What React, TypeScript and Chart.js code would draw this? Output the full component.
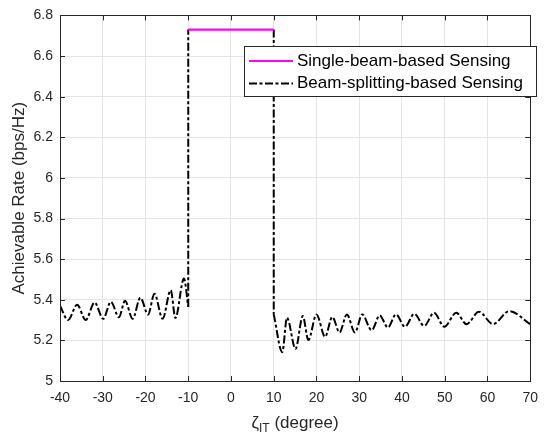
import React, { useEffect, useRef } from "react";
import { Chart, registerables } from "chart.js";

Chart.register(...registerables);

// ---- Data ----
const xTickValues = [-40, -30, -20, -10, 0, 10, 20, 30, 40, 50, 60, 70];
const yTickValues = [5, 5.2, 5.4, 5.6, 5.8, 6, 6.2, 6.4, 6.6, 6.8];

const singleBeamAngles = [-10, 10];
const singleBeamRates = [6.73, 6.73];

const splitLeftAngles = [-40, -38.1, -36.0, -34.0, -31.9, -29.9, -28.1, -26.2, -24.8, -23.0, -21.2, -19.4, -17.9, -16.0, -14.1, -13.0, -11.0, -10.0];
const splitLeftRates = [5.37, 5.3, 5.376, 5.3, 5.387, 5.306, 5.39, 5.314, 5.395, 5.306, 5.41, 5.327, 5.43, 5.306, 5.447, 5.31, 5.505, 5.365];

// vertical jumps of the beam-splitting curve (its plateau coincides with the single-beam line)
const splitJumpUpAngles = [-10, -10];
const splitJumpUpRates = [5.365, 6.73];
const splitJumpDownAngles = [10, 10];
const splitJumpDownRates = [6.73, 5.328];

const splitRightAngles = [10, 12.0, 13.1, 15.1, 16.8, 18.1, 20.0, 22.0, 23.7, 25.4, 27.1, 29.0, 30.7, 32.9, 34.8, 36.7, 38.6, 40.7, 42.9, 45.2, 47.5, 49.9, 52.7, 55.1, 58.0, 61.3, 65.1, 70];
const splitRightRates = [5.328, 5.142, 5.312, 5.158, 5.32, 5.202, 5.328, 5.218, 5.315, 5.239, 5.328, 5.239, 5.328, 5.25, 5.323, 5.263, 5.328, 5.267, 5.331, 5.271, 5.336, 5.267, 5.336, 5.28, 5.341, 5.28, 5.344, 5.28];

const legendLabels = ["Single-beam-based Sensing", "Beam-splitting-based Sensing"];
const xTitleMain = "\u03B6";
const xTitleSub = "IT";
const xTitleRest = " (degree)";
const yTitle = "Achievable Rate (bps/Hz)";

const FONT = "'Liberation Sans', Arial, Helvetica, sans-serif";
const AXIS_COLOR = "#262626";
const GRID_COLOR = "#e4e4e4";
const DASH = [8, 2.5, 3, 2.5];

const toPts = (xs: number[], ys: number[]) => xs.map((x, i) => ({ x, y: ys[i] }));

const decorPlugin = {
  id: "decor",
  afterDraw(chart: any) {
    const { ctx, chartArea, scales } = chart;
    const { left, right, top, bottom } = chartArea;
    ctx.save();
    // inner ticks
    ctx.strokeStyle = AXIS_COLOR;
    ctx.lineWidth = 1;
    const tl = 5;
    ctx.beginPath();
    xTickValues.forEach((v) => {
      const px = Math.round(scales.x.getPixelForValue(v)) + 0.5;
      ctx.moveTo(px, bottom);
      ctx.lineTo(px, bottom - tl);
      ctx.moveTo(px, top);
      ctx.lineTo(px, top + tl);
    });
    yTickValues.forEach((v) => {
      const py = Math.round(scales.y.getPixelForValue(v)) + 0.5;
      ctx.moveTo(left, py);
      ctx.lineTo(left + tl, py);
      ctx.moveTo(right, py);
      ctx.lineTo(right - tl, py);
    });
    ctx.stroke();
    // box
    ctx.strokeRect(Math.round(left) + 0.5, Math.round(top) + 0.5, Math.round(right - left), Math.round(bottom - top));

    // legend
    const bx = 244.5, by = 46.5, bw = 292, bh = 50;
    ctx.fillStyle = "#ffffff";
    ctx.fillRect(bx, by, bw, bh);
    ctx.strokeStyle = AXIS_COLOR;
    ctx.lineWidth = 1;
    ctx.strokeRect(bx, by, bw, bh);
    const rows = [61, 83.5];
    ctx.lineWidth = 2;
    ctx.strokeStyle = "#ff00ff";
    ctx.setLineDash([]);
    ctx.beginPath();
    ctx.moveTo(249, rows[0]);
    ctx.lineTo(293, rows[0]);
    ctx.stroke();
    ctx.strokeStyle = "#000000";
    ctx.setLineDash(DASH);
    ctx.beginPath();
    ctx.moveTo(249, rows[1]);
    ctx.lineTo(293, rows[1]);
    ctx.stroke();
    ctx.setLineDash([]);
    ctx.fillStyle = "#000000";
    ctx.font = `17px ${FONT}`;
    ctx.textBaseline = "middle";
    ctx.textAlign = "left";
    ctx.fillText(legendLabels[0], 297, rows[0]);
    ctx.fillText(legendLabels[1], 297, rows[1]);

    // x title with subscript
    ctx.fillStyle = AXIS_COLOR;
    const mainFont = `17px ${FONT}`;
    const subFont = `12px ${FONT}`;
    ctx.font = mainFont;
    const w1 = ctx.measureText(xTitleMain).width;
    const w3 = ctx.measureText(xTitleRest).width;
    ctx.font = subFont;
    const w2 = ctx.measureText(xTitleSub).width;
    const total = w1 + w2 + w3;
    let sx = (left + right) / 2 - total / 2;
    const ty = 423;
    ctx.textBaseline = "middle";
    ctx.font = mainFont;
    ctx.fillText(xTitleMain, sx, ty);
    sx += w1;
    ctx.font = subFont;
    ctx.fillText(xTitleSub, sx, ty + 6);
    sx += w2;
    ctx.font = mainFont;
    ctx.fillText(xTitleRest, sx, ty);
    ctx.restore();
  },
};

export default function App() {
  const ref = useRef<HTMLCanvasElement>(null);
  useEffect(() => {
    document.body.style.margin = "0";
    const lineBase = { pointRadius: 0, fill: false, spanGaps: true };
    const blackBase = { ...lineBase, label: legendLabels[1], borderColor: "#000000", borderWidth: 2, borderDash: DASH };
    const chart = new Chart(ref.current as HTMLCanvasElement, {
      type: "line",
      data: {
        datasets: [
          {
            ...lineBase,
            label: legendLabels[0],
            data: toPts(singleBeamAngles, singleBeamRates),
            borderColor: "#ff00ff",
            borderWidth: 2.2,
            tension: 0,
          },
          { ...blackBase, data: toPts(splitLeftAngles, splitLeftRates), cubicInterpolationMode: "monotone" },
          { ...blackBase, data: toPts(splitJumpUpAngles, splitJumpUpRates), tension: 0 },
          { ...blackBase, data: toPts(splitJumpDownAngles, splitJumpDownRates), tension: 0 },
          { ...blackBase, data: toPts(splitRightAngles, splitRightRates), cubicInterpolationMode: "monotone" },
        ] as any,
      },
      options: {
        animation: false,
        responsive: true,
        maintainAspectRatio: false,
        layout: { padding: { top: 10, right: 9, left: 0, bottom: 0 } },
        plugins: { legend: { display: false }, tooltip: { enabled: false } },
        scales: {
          x: {
            type: "linear",
            min: -40,
            max: 70,
            afterBuildTicks: (axis: any) => {
              axis.ticks = xTickValues.map((v) => ({ value: v }));
            },
            afterFit: (scale: any) => {
              scale.height = 53;
            },
            grid: { color: GRID_COLOR, drawTicks: false, lineWidth: 1 },
            border: { display: false },
            ticks: {
              color: AXIS_COLOR,
              font: { family: FONT, size: 14 },
              padding: 9,
              maxRotation: 0,
              autoSkip: false,
              callback: (v: any) => String(v),
            },
          },
          y: {
            type: "linear",
            min: 5,
            max: 6.8,
            afterBuildTicks: (axis: any) => {
              axis.ticks = yTickValues.map((v) => ({ value: v }));
            },
            afterFit: (scale: any) => {
              scale.width = 60;
            },
            grid: { color: GRID_COLOR, drawTicks: false, lineWidth: 1 },
            border: { display: false },
            ticks: {
              color: AXIS_COLOR,
              font: { family: FONT, size: 14 },
              padding: 7,
              autoSkip: false,
              callback: (v: any) => String(Number(Number(v).toFixed(1))),
            },
            title: {
              display: true,
              text: yTitle,
              color: AXIS_COLOR,
              font: { family: FONT, size: 17 },
              padding: { top: 9, bottom: 0 },
            },
          },
        },
      } as any,
      plugins: [decorPlugin],
    });
    return () => chart.destroy();
  }, []);
  return (
    <div style={{ width: 547, height: 434, position: "relative" }}>
      <canvas ref={ref} />
    </div>
  );
}
